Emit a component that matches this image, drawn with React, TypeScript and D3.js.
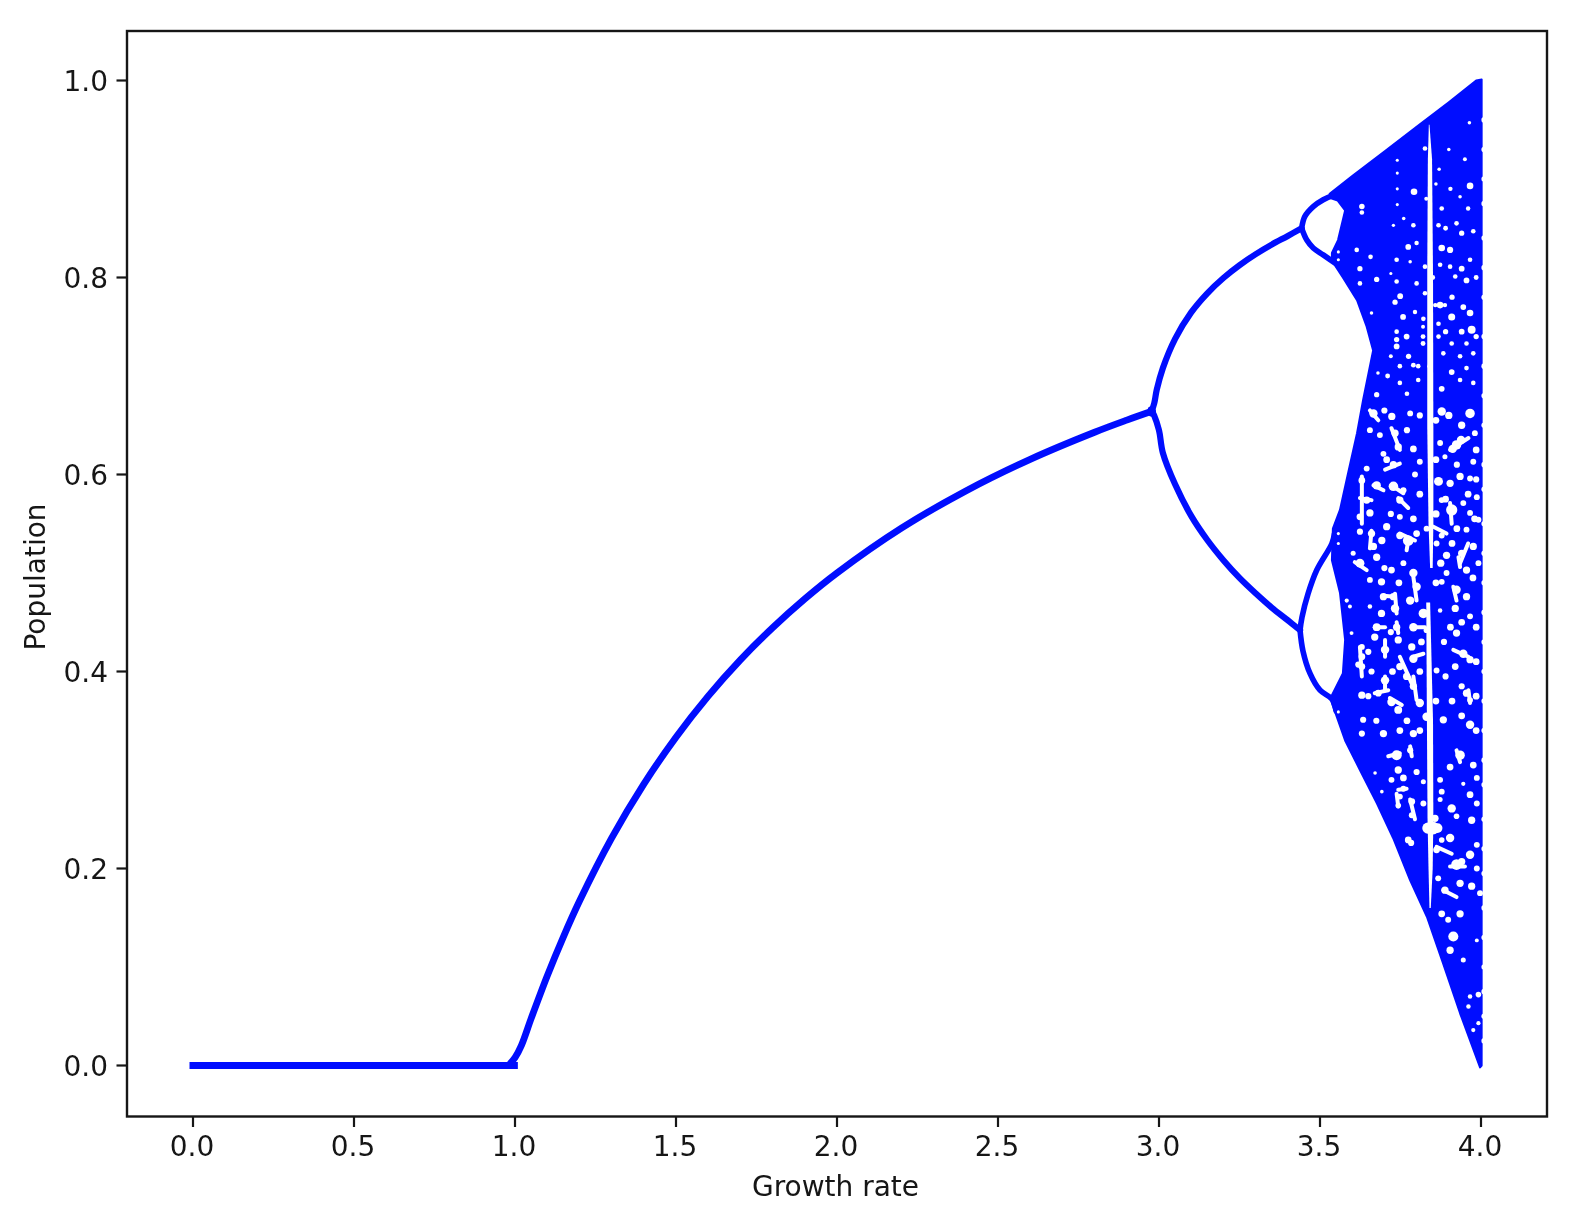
import React from "react";
import * as d3 from "d3";

type Pt = [number, number];
type Gap = [number, number, number?];

const xTicks = [0, 0.5, 1, 1.5, 2, 2.5, 3, 3.5, 4];
const yTicks = [0, 0.2, 0.4, 0.6, 0.8, 1];

const extinctBranch: Pt[] = [[0, 0], [0.5, 0], [0.99, 0], [0.998, 0]];
const risingBranch: Pt[] = [
  [0.985, 0.002], [1.0, 0.008], [1.02, 0.0205], [1.05, 0.0476], [1.1, 0.0909], [1.15, 0.1304], [1.2, 0.1667],
  [1.3, 0.2308], [1.4, 0.2857], [1.5, 0.3333], [1.6, 0.375], [1.7, 0.4118], [1.8, 0.4444], [1.9, 0.4737],
  [2.0, 0.5], [2.2, 0.5455], [2.4, 0.5833], [2.6, 0.6154], [2.8, 0.6429], [2.9, 0.6552], [2.98, 0.6644],
];
const upperFork: Pt[] = [
  [2.975, 0.662], [2.985, 0.672], [2.993, 0.686], [3.012, 0.708], [3.05, 0.7377], [3.1, 0.7646], [3.15, 0.784],
  [3.2, 0.7995], [3.25, 0.8124], [3.3, 0.8236], [3.35, 0.8334], [3.4, 0.8422], [3.443, 0.85],
];
const lowerFork: Pt[] = [
  [2.975, 0.666], [2.985, 0.66], [3.0, 0.645], [3.012, 0.622], [3.05, 0.59], [3.1, 0.558], [3.15, 0.5335],
  [3.2, 0.513], [3.25, 0.495], [3.3, 0.4794], [3.35, 0.4649], [3.4, 0.452], [3.438, 0.442],
];
const loopTopUpper: Pt[] = [[3.443, 0.85], [3.453, 0.862], [3.479, 0.872], [3.51, 0.879], [3.545, 0.884]];
const loopTopLower: Pt[] = [[3.443, 0.85], [3.459, 0.838], [3.479, 0.83], [3.51, 0.823], [3.545, 0.815]];
const loopBottomUpper: Pt[] = [[3.438, 0.442], [3.444, 0.455], [3.463, 0.479], [3.49, 0.503], [3.537, 0.53], [3.545, 0.54]];
const loopBottomLower: Pt[] = [[3.438, 0.442], [3.447, 0.421], [3.469, 0.398], [3.5, 0.381], [3.537, 0.372], [3.55, 0.36]];

const chaosOutline: Pt[] = [
  [3.53, 0.885], [3.6, 0.903], [3.7, 0.928], [3.8, 0.953], [3.9, 0.978], [3.985, 1.0], [4.002, 1.001],
  [4.002, 0.0], [3.997, -0.002], [3.935, 0.053], [3.882, 0.104], [3.832, 0.151], [3.78, 0.188], [3.727, 0.231],
  [3.677, 0.266], [3.624, 0.3], [3.578, 0.33], [3.537, 0.368], [3.537, 0.376], [3.571, 0.398], [3.578, 0.432],
  [3.562, 0.48], [3.537, 0.513], [3.54, 0.545], [3.562, 0.564], [3.587, 0.601], [3.615, 0.642], [3.634, 0.676],
  [3.665, 0.726], [3.645, 0.75], [3.615, 0.777], [3.571, 0.8], [3.537, 0.817], [3.537, 0.825], [3.556, 0.838],
  [3.578, 0.868], [3.555, 0.878], [3.53, 0.881],
];

// [population, left rate, right rate]
const windowUpper: [number, number, number][] = [
  [0.955, 3.838, 3.84], [0.92, 3.835, 3.848], [0.8, 3.833, 3.851], [0.65, 3.833, 3.852], [0.55, 3.837, 3.852], [0.505, 3.842, 3.85],
];
const windowLower: [number, number, number][] = [
  [0.47, 3.83, 3.842], [0.35, 3.832, 3.851], [0.25, 3.834, 3.852], [0.2, 3.837, 3.85], [0.16, 3.84, 3.844],
];

// white specks in the chaotic region: [rate, population, optional radius]
const gapsTop: Gap[] = [
  [3.63, 0.872, 2.5], [3.63, 0.866], [3.74, 0.919, 1.4], [3.74, 0.906, 1.4], [3.74, 0.89, 1.4], [3.74, 0.874, 1.4],
  [3.792, 0.887, 3], [3.964, 0.957, 1.6], [3.826, 0.931], [3.966, 0.893, 3], [3.935, 0.882, 1.6], [3.878, 0.87],
  [3.924, 0.855], [3.868, 0.853], [3.79, 0.853], [3.728, 0.853, 1.5], [3.976, 0.847], [3.878, 0.83, 3], [3.904, 0.828, 2.8],
  [3.774, 0.831, 2.6], [3.614, 0.828], [3.657, 0.821], [3.624, 0.809, 2.4], [3.624, 0.794], [3.676, 0.798, 2.4],
  [3.738, 0.818], [3.78, 0.816, 1.6], [3.826, 0.811], [3.873, 0.813], [3.904, 0.811], [3.94, 0.809, 2.6], [3.966, 0.818],
  [3.92, 0.801], [3.955, 0.797, 2.6], [3.738, 0.796], [3.8, 0.794], [3.72, 0.804, 1.4], [3.749, 0.781, 2.6], [3.733, 0.775, 2.4],
  [3.826, 0.784], [3.858, 0.772, 2], [3.873, 0.772, 3], [3.888, 0.772, 2], [3.66, 0.764, 1.6], [3.758, 0.76, 2.6], [3.821, 0.758],
  [3.909, 0.76, 3.2], [3.966, 0.764, 3], [3.868, 0.753], [3.971, 0.747, 3.6], [3.82, 0.75, 1.8], [3.738, 0.745], [3.738, 0.737, 2.4],
  [3.738, 0.73, 2.6], [3.769, 0.74, 2.6], [3.82, 0.74, 2.2], [3.82, 0.733, 2.2], [3.868, 0.74], [3.909, 0.733], [3.955, 0.733],
  [3.748, 0.71], [3.79, 0.711, 2.2], [3.805, 0.71], [3.883, 0.723], [3.935, 0.72], [3.976, 0.723], [3.909, 0.704, 2.6], [3.955, 0.708],
  [3.68, 0.703, 1.6], [3.748, 0.693], [3.805, 0.696], [3.878, 0.687, 2.6], [3.935, 0.696], [3.976, 0.693], [3.676, 0.681, 2.4], [3.77, 0.682],
  [3.9, 0.93, 1.6], [3.87, 0.91, 1.6], [3.95, 0.92, 1.8], [3.905, 0.89, 2], [3.96, 0.87, 2], [3.86, 0.895, 1.6], [3.94, 0.845, 2.4], [3.89, 0.85, 2.2],
  [3.83, 0.88, 1.8], [3.76, 0.86, 1.6], [3.8, 0.835, 2], [3.85, 0.8, 2.2], [3.91, 0.78, 2.4], [3.945, 0.77, 2.6], [3.985, 0.8, 2.2], [3.985, 0.74, 2.4],
  [3.94, 0.745, 2.6], [3.89, 0.745, 2.4], [3.795, 0.765, 2], [3.775, 0.72, 2.4], [3.72, 0.72, 1.8], [3.71, 0.7, 2.2], [3.84, 0.71, 2],
];
const gapsMiddle: Gap[] = [
  [3.666, 0.662, 3], [3.723, 0.659, 2.6], [3.78, 0.662], [3.878, 0.664, 3], [3.966, 0.662, 3.4], [3.733, 0.642, 2.6], [3.686, 0.64],
  [3.743, 0.628, 2.6], [3.79, 0.626, 2.4], [3.924, 0.63, 3.4], [3.912, 0.626, 3], [3.938, 0.635, 3], [3.873, 0.632], [3.981, 0.642], [3.697, 0.621],
  [3.655, 0.645], [3.81, 0.613], [3.728, 0.61, 2.6], [3.707, 0.615, 2.4], [3.976, 0.613], [3.888, 0.618, 1.8], [3.645, 0.606], [3.795, 0.6],
  [3.63, 0.594, 2.4], [3.676, 0.589, 3], [3.728, 0.588, 3.4], [3.759, 0.584, 2.2], [3.868, 0.593, 3.2], [3.935, 0.598, 2.6], [3.966, 0.596],
  [3.904, 0.591, 2.6], [3.987, 0.577], [3.645, 0.574, 2.6], [3.748, 0.574, 2.6], [3.909, 0.564, 4], [3.878, 0.574], [3.945, 0.571], [3.966, 0.561],
  [3.655, 0.561, 2.6], [3.624, 0.557, 2.4], [3.707, 0.547, 2.6], [3.748, 0.557], [3.79, 0.555, 2.4], [3.992, 0.554], [3.831, 0.545], [3.66, 0.54, 2.6],
  [3.748, 0.538, 2.6], [3.774, 0.533, 3.8], [3.692, 0.533, 2.6], [3.878, 0.538], [3.624, 0.542, 2.2], [3.955, 0.544], [3.666, 0.527, 2.6], [3.862, 0.53],
  [3.976, 0.527, 2.6], [3.603, 0.52, 1.8], [3.893, 0.518, 2.6], [3.94, 0.52, 2.6], [3.676, 0.516, 2.6], [3.624, 0.51, 3.2], [3.759, 0.51], [3.722, 0.503, 2.4],
  [3.955, 0.503, 2.6], [3.893, 0.5], [3.992, 0.51], [3.79, 0.5, 3], [3.655, 0.493], [3.691, 0.491, 2.6], [3.8, 0.486, 3], [3.924, 0.483, 3], [3.878, 0.491],
  [3.697, 0.476, 2.6], [3.728, 0.476, 2.6], [3.955, 0.476, 2.6], [3.78, 0.472, 3], [3.583, 0.472, 1.5], [3.733, 0.464, 3], [3.821, 0.459, 3.4],
  [3.655, 0.466, 1.6], [3.691, 0.459, 2.6], [3.92, 0.464, 2.6], [3.593, 0.466, 1.4], [3.873, 0.462, 1.6], [3.966, 0.456], [3.79, 0.445, 3], [3.676, 0.445, 2.8],
  [3.738, 0.445, 2.6], [3.831, 0.442], [3.924, 0.439, 2.6], [3.598, 0.439, 1.4], [3.67, 0.435, 2.6], [3.785, 0.425, 2.6], [3.743, 0.432, 2.6], [3.945, 0.418, 3],
  [3.702, 0.422, 3], [3.63, 0.425], [3.63, 0.415, 2.4], [3.63, 0.405, 2.4], [3.79, 0.413, 3], [3.966, 0.412, 2.6], [3.748, 0.405, 2.6], [3.619, 0.407, 2.2],
  [3.702, 0.391, 3], [3.769, 0.395, 2.6], [3.862, 0.401], [3.79, 0.385, 2.6], [3.955, 0.378, 2.6], [3.63, 0.376, 2.6], [3.681, 0.378, 2.4], [3.722, 0.369, 3],
  [3.81, 0.368, 3], [3.966, 0.371], [3.557, 0.359, 1.1], [3.743, 0.361, 2.8], [3.634, 0.351, 2.2], [3.831, 0.354, 3], [3.883, 0.351, 2.6], [3.966, 0.346, 3],
  [3.697, 0.337, 2.6], [3.748, 0.34, 2.4], [3.79, 0.337, 2.6], [3.63, 0.337, 2.2], [3.557, 0.53, 1.1], [3.557, 0.54, 1.1], [3.557, 0.818, 1.1], [3.557, 0.826, 1.1],
  [3.86, 0.655, 2.4], [3.9, 0.66, 2.6], [3.94, 0.65, 2.6], [3.985, 0.625, 2.4], [3.86, 0.615, 2.4], [3.925, 0.61, 2.2], [3.89, 0.575, 2.4], [3.96, 0.58, 2.4],
  [3.985, 0.595, 2.2], [3.86, 0.56, 2.6], [3.925, 0.545, 2.4], [3.98, 0.555, 2.4], [3.875, 0.51, 2.6], [3.91, 0.53, 2.4], [3.975, 0.495, 2.4], [3.86, 0.49, 2.4],
  [3.905, 0.445, 2.4], [3.94, 0.45, 2.4], [3.985, 0.445, 2.4], [3.885, 0.43, 2.2], [3.985, 0.41, 2.4], [3.89, 0.395, 2.2], [3.92, 0.405, 2.4], [3.94, 0.385, 2.2],
  [3.985, 0.375, 2.4], [3.86, 0.37, 2.4], [3.91, 0.37, 2.4], [3.94, 0.355, 2.4], [3.985, 0.34, 2.4], [3.77, 0.645, 2.2], [3.81, 0.66, 2.2], [3.7, 0.665, 2.2],
  [3.81, 0.58, 2.4], [3.8, 0.54, 2.4], [3.72, 0.56, 2.2], [3.7, 0.505, 2.2], [3.745, 0.49, 2.4], [3.65, 0.42, 2.2], [3.66, 0.4, 2.2], [3.725, 0.4, 2.4],
  [3.81, 0.4, 2.4], [3.815, 0.43, 2.4], [3.72, 0.44, 2.2], [3.65, 0.375, 2.2], [3.77, 0.35, 2.4], [3.81, 0.34, 2.4], [3.675, 0.35, 2.2],
];
const gapsBottom: Gap[] = [
  [3.738, 0.315, 3.6], [3.78, 0.32, 2.2], [3.935, 0.315, 3.4], [3.904, 0.303, 2.4], [3.976, 0.305, 2.4], [3.743, 0.3, 2.6], [3.8, 0.298, 2.2],
  [3.671, 0.297, 1.3], [3.873, 0.29], [3.722, 0.29], [3.759, 0.292, 2.4], [3.821, 0.288, 1.8], [3.945, 0.286, 1.5], [3.759, 0.281], [3.878, 0.278],
  [3.692, 0.278, 1.3], [3.987, 0.292], [3.966, 0.275, 2.4], [3.748, 0.273], [3.785, 0.268, 2.4], [3.821, 0.266], [3.909, 0.261, 3], [3.987, 0.266],
  [3.873, 0.27, 1.8], [3.743, 0.264, 2], [3.785, 0.254], [3.857, 0.251, 2.6], [3.971, 0.249, 2.6], [3.924, 0.253, 2], [3.904, 0.231, 3], [3.851, 0.241, 4.5],
  [3.835, 0.241, 4], [3.865, 0.241, 3.5], [3.878, 0.229, 2], [3.774, 0.229, 2.4], [3.987, 0.224], [3.862, 0.219, 2.4], [3.966, 0.214, 3], [3.924, 0.204, 3.8],
  [3.94, 0.207, 2.6], [3.987, 0.2], [3.867, 0.19], [3.935, 0.185, 2.6], [3.971, 0.182, 2.6], [3.888, 0.178, 2.6], [3.997, 0.175], [3.878, 0.154, 2.4],
  [3.935, 0.154, 2.6], [3.898, 0.148], [3.914, 0.131, 3.6], [3.904, 0.117, 2.6], [3.945, 0.107, 1.8], [3.987, 0.127, 1.4], [3.966, 0.07, 1.6], [3.961, 0.06, 1.6],
  [3.992, 0.043, 1.5], [3.976, 0.036, 1.5], [3.992, 0.072, 2], [3.783, 0.226, 2.2],
];
// short white runs: [rate, population, rate, population]
const gapRuns: [number, number, number, number][] = [
  [3.655, 0.665, 3.681, 0.655], [3.722, 0.647, 3.748, 0.625], [3.904, 0.625, 3.961, 0.637], [3.702, 0.605, 3.748, 0.611], [3.666, 0.589, 3.697, 0.584],
  [3.722, 0.589, 3.759, 0.581], [3.624, 0.576, 3.66, 0.574], [3.63, 0.598, 3.63, 0.55], [3.743, 0.576, 3.774, 0.566], [3.904, 0.571, 3.909, 0.55],
  [3.748, 0.54, 3.795, 0.533], [3.774, 0.533, 3.769, 0.523], [3.66, 0.543, 3.655, 0.525], [3.608, 0.511, 3.645, 0.503], [3.79, 0.496, 3.8, 0.472],
  [3.697, 0.477, 3.733, 0.476], [3.733, 0.479, 3.738, 0.459], [3.79, 0.445, 3.826, 0.445], [3.67, 0.445, 3.702, 0.445], [3.738, 0.45, 3.743, 0.439],
  [3.624, 0.425, 3.63, 0.395], [3.702, 0.432, 3.702, 0.415], [3.748, 0.415, 3.785, 0.388], [3.79, 0.415, 3.821, 0.418], [3.914, 0.422, 3.961, 0.415],
  [3.702, 0.395, 3.702, 0.381], [3.67, 0.378, 3.712, 0.381], [3.717, 0.373, 3.754, 0.366], [3.79, 0.395, 3.8, 0.371], [3.961, 0.381, 3.966, 0.368],
  [3.93, 0.516, 3.935, 0.506], [3.914, 0.486, 3.924, 0.472], [3.96, 0.53, 3.935, 0.51], [3.852, 0.547, 3.893, 0.54],
  [3.712, 0.314, 3.748, 0.317], [3.78, 0.324, 3.785, 0.314], [3.924, 0.32, 3.935, 0.308], [3.743, 0.28, 3.769, 0.281], [3.738, 0.276, 3.743, 0.263],
  [3.78, 0.27, 3.795, 0.25], [3.862, 0.222, 3.909, 0.215], [3.904, 0.202, 3.95, 0.202], [3.883, 0.178, 3.924, 0.171],
];
// bites taken out of the right-hand edge at a rate of 4.0
const edgeNotches: number[] = [
  0.96, 0.93, 0.9, 0.875, 0.84, 0.81, 0.78, 0.74, 0.71, 0.68, 0.65, 0.61, 0.585, 0.55, 0.52, 0.49, 0.46, 0.43, 0.4, 0.37,
  0.34, 0.31, 0.285, 0.25, 0.22, 0.195, 0.16, 0.13, 0.1, 0.075, 0.05, 0.025,
];

const BLUE = "#0010ff";
const INK = "#151515";
const FONT = "'DejaVu Sans', sans-serif";

const x = d3.scaleLinear().domain([0, 4]).range([193, 1481]);
const y = d3.scaleLinear().domain([0, 1]).range([1065.5, 80.5]);
const LEFT = 127, RIGHT = 1547, TOP = 31, BOTTOM = 1116.5;

const curve = d3.line<Pt>().x((d) => x(d[0])).y((d) => y(d[1])).curve(d3.curveCatmullRom);
const straight = d3.line<Pt>().x((d) => x(d[0])).y((d) => y(d[1]));
const strip = d3.area<[number, number, number]>().y((d) => y(d[0])).x0((d) => x(d[1])).x1((d) => x(d[2]));

const branches = [risingBranch, upperFork, lowerFork, loopTopUpper, loopTopLower, loopBottomUpper, loopBottomLower];
const fmt = d3.format(".1f");

export default function App() {
  return (
    <svg width={1576} height={1220} viewBox="0 0 1576 1220" style={{ position: "absolute", left: 0, top: 0, background: "#fff" }}>
      <defs>
        <filter id="soft" x="0" y="0" width="1" height="1" filterUnits="objectBoundingBox">
          <feGaussianBlur stdDeviation="0.55" />
        </filter>
      </defs>
      <g filter="url(#soft)">
        <rect x={0} y={0} width={1576} height={1220} fill="#fff" />
        <path d={straight(chaosOutline)! + "Z"} fill={BLUE} stroke={BLUE} strokeWidth={2} strokeLinejoin="round" />
        <path d={straight(extinctBranch)!} fill="none" stroke={BLUE} strokeWidth={7} strokeLinecap="square" />
        {branches.map((b, i) => (
          <path key={i} d={curve(b)!} fill="none" stroke={BLUE} strokeWidth={i === 0 ? 6.8 : i < 3 ? 6.2 : 5.6} strokeLinecap="round" />
        ))}
        {gapsTop.map((g, i) => (
          <circle key={i} cx={x(g[0])} cy={y(g[1])} r={(g[2] ?? 2.1) * 1.1} fill="#fff" />
        ))}
        {[...gapsMiddle, ...gapsBottom].map((g, i) => (
          <circle key={i} cx={x(g[0])} cy={y(g[1])} r={(g[2] ?? 2.1) * 1.4} fill="#fff" />
        ))}
        {gapRuns.map((g, i) => (
          <line key={i} x1={x(g[0])} y1={y(g[1])} x2={x(g[2])} y2={y(g[3])} stroke="#fff" strokeWidth={4} strokeLinecap="round" />
        ))}
        <path d={strip(windowUpper)!} fill="#fff" />
        <path d={strip(windowLower)!} fill="#fff" />
        {edgeNotches.map((p, i) => (
          <circle key={i} cx={x(4.01)} cy={y(p)} r={2.8} fill="#fff" />
        ))}
        <rect x={LEFT} y={TOP} width={RIGHT - LEFT} height={BOTTOM - TOP} fill="none" stroke={INK} strokeWidth={2.4} />
        {xTicks.map((t) => (
          <g key={t}>
            <line x1={x(t)} x2={x(t)} y1={BOTTOM} y2={BOTTOM + 10.5} stroke={INK} strokeWidth={2.2} />
            <text x={x(t) - 1} y={1156} textAnchor="middle" fontFamily={FONT} fontSize={28} fill={INK}>{fmt(t)}</text>
          </g>
        ))}
        {yTicks.map((t) => (
          <g key={t}>
            <line x1={LEFT - 10.5} x2={LEFT} y1={y(t)} y2={y(t)} stroke={INK} strokeWidth={2.2} />
            <text x={108} y={y(t) + 10.5} textAnchor="end" fontFamily={FONT} fontSize={28} fill={INK}>{fmt(t)}</text>
          </g>
        ))}
        <text x={835.5} y={1196} textAnchor="middle" fontFamily={FONT} fontSize={28} fill={INK}>Growth rate</text>
        <text transform="translate(45,577) rotate(-90)" textAnchor="middle" fontFamily={FONT} fontSize={28} fill={INK}>Population</text>
      </g>
    </svg>
  );
}
